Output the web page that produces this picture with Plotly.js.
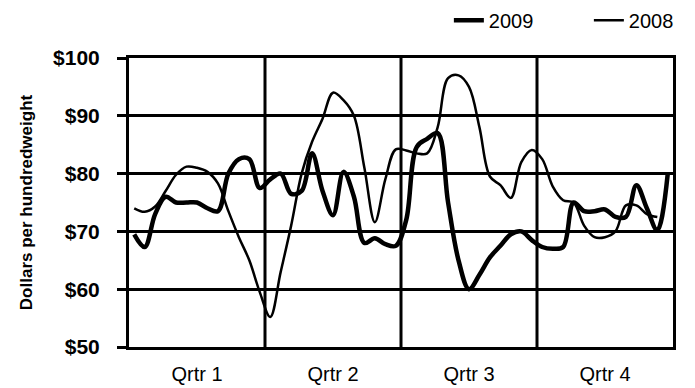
<!DOCTYPE html>
<html>
<head>
<meta charset="utf-8">
<script src="https://cdn.plot.ly/plotly-3.0.1.min.js"></script>
<style>html,body{margin:0;padding:0;background:#fff;}#chart{width:695px;height:388px;}</style>
</head>
<body>
<div id="chart"></div>
<script>
// weekly prices, dollars per hundredweight
const weeks2009 = [1,2,3,4,5,6,7,8,9,10,11,12,13,14,15,16,17,18,19,20,21,22,23,24,25,26,27,28,29,30,31,32,33,34,35,36,37,38,39,40,41,42,43,44,45,46,47,48,49,50,51,52];
const price2009 = [69.5,67.3,73,76,75,75,75,74,73.5,80,82.5,82.5,77.5,79,80,76.5,77,83.5,77,72.8,80.3,76,68,68.8,67.8,67.5,72,84.6,86,87,75,65,60,62.5,65.5,67.5,69.5,70,68.5,67.3,67,67.3,75,73.5,73.5,73.8,72.5,72.5,78,74,70.2,80];
const weeks2008 = [1,2,3,4,5,6,7,8,9,10,11,12,13,14,15,16,17,18,19,20,21,22,23,24,25,26,27,28,29,30,31,32,33,34,35,36,37,38,39,40,41,42,43,44,45,46,47,48,49,50,51];
const price2008 = [74,73.4,74.3,77,79.8,81.2,81,80.3,78.3,73.5,69,65,59.5,55.2,63,71,80,85.5,89.5,94,92.7,90,81,71.6,79,84.2,84,83.5,83.5,88,96.5,97,95,88,79.5,78,75.8,82,84.1,82.5,77.8,75.4,75,71,69,69,70,74.5,74.5,73,72.5];
const quarterLabels = ["Qrtr 1","Qrtr 2","Qrtr 3","Qrtr 4"];
const quarterCenters = [7,20,33,46];
const quarterBounds = [13.5,26.5,39.5];
const yTicks = [50,60,70,80,90,100];
const yTickText = ["$50","$60","$70","$80","$90","$100"];

const traces = [
  {x: weeks2008, y: price2008, name: "2008", type: "scatter", mode: "lines",
   line: {color: "#000", width: 2.5, shape: "spline", smoothing: 1}},
  {x: weeks2009, y: price2009, name: "2009", type: "scatter", mode: "lines",
   line: {color: "#000", width: 4.5, shape: "spline", smoothing: 1}}
];

const layout = {
  width: 695, height: 388,
  margin: {l: 129, r: 22, t: 58, b: 41, pad: 0, autoexpand: false},
  paper_bgcolor: "#fff", plot_bgcolor: "#fff",
  font: {family: "Liberation Sans, Arial, sans-serif", color: "#000"},
  showlegend: true,
  legend: {orientation: "h", traceorder: "reversed", x: 0.588, xanchor: "left", y: 1.131, yanchor: "middle",
           font: {size: 20, color: "#000"}, bgcolor: "rgba(0,0,0,0)", entrywidth: 95, entrywidthmode: "pixels", itemwidth: 30},
  xaxis: {range: [0.5, 52.5], tickmode: "array", tickvals: quarterCenters, ticktext: quarterLabels,
          ticks: "", showgrid: false, zeroline: false, showline: true, linecolor: "#000", linewidth: 3, mirror: true,
          tickfont: {size: 20, color: "#000"}, ticklabelstandoff: 7, fixedrange: true},
  yaxis: {range: [50, 100], tickmode: "array", tickvals: yTicks, ticktext: yTickText,
          ticks: "outside", ticklen: 9, tickwidth: 3, tickcolor: "#000",
          showgrid: true, gridcolor: "#000", gridwidth: 3, zeroline: false,
          showline: true, linecolor: "#000", linewidth: 3, mirror: true,
          tickfont: {size: 21, color: "#000", weight: "bold"}, ticklabelstandoff: 13,
          title: {text: "<b>Dollars per hundredweight</b>", font: {size: 17, color: "#000"}, standoff: 17}},
  shapes: quarterBounds.map(b => ({type: "line", xref: "x", yref: "paper", x0: b, x1: b, y0: 0, y1: 1,
          line: {color: "#000", width: 3}}))
};

Plotly.newPlot("chart", traces, layout, {displayModeBar: false, staticPlot: true});
</script>
</body>
</html>
